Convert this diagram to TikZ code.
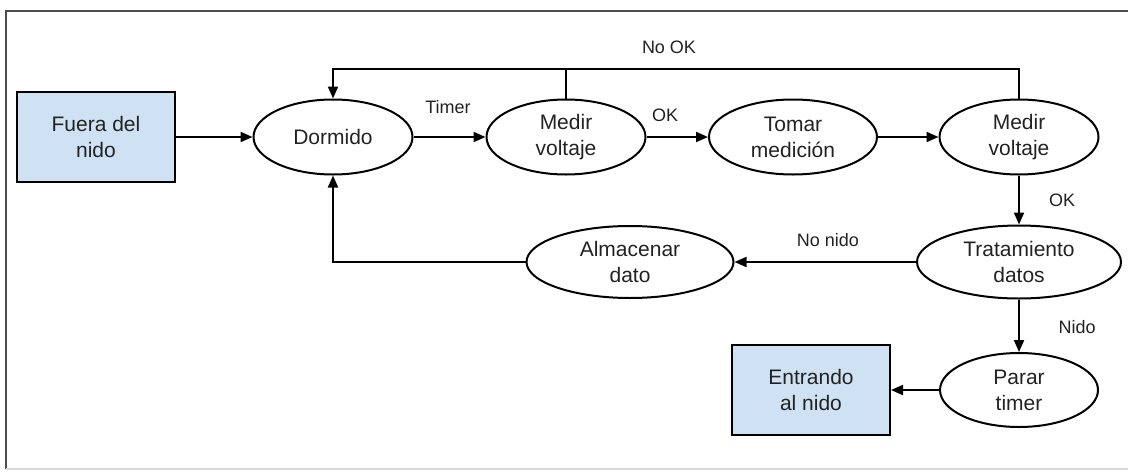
\documentclass[tikz,border=0pt]{standalone}
\usepackage{fontspec}
\setmainfont{Liberation Sans}
\usetikzlibrary{arrows.meta,shapes.geometric}

\definecolor{boxblue}{HTML}{CFE2F3}
\definecolor{ink}{HTML}{222222}

\begin{document}
\begin{tikzpicture}[x=0.5pt,y=-0.5pt,line width=1pt]
  \tikzset{
    estado/.style={ellipse,draw=black,inner sep=0pt,align=center,
      font=\fontsize{10.5}{13}\selectfont,text=ink,
      minimum width=79.5pt,minimum height=37.5pt},
    caja/.style={rectangle,draw=black,fill=boxblue,inner sep=0pt,align=center,
      font=\fontsize{10.5}{13}\selectfont,text=ink,
      minimum width=79pt,minimum height=45pt},
    etiqueta/.style={font=\fontsize{9}{11}\selectfont,text=ink,inner sep=0pt},
    flecha/.style={-{Triangle[length=6pt,width=5pt]}}
  }
  \useasboundingbox (0,0) rectangle (1128,471);

  \draw[black!70] (6,469) -- (6,11) -- (1128,11);
  \draw[black!15] (6,469) -- (1128,469);

  \node[caja] (fuera) at (96,137) {Fuera del\\nido};
  \node[estado] (dormido) at (333,137) {Dormido};
  \node[estado] (medir1) at (566,137) {Medir\\voltaje};
  \node[estado,minimum width=84pt] (tomar) at (793,137) {Tomar\\medición};
  \node[estado] (medir2) at (1019,137) {Medir\\voltaje};
  \node[estado,minimum width=102pt,minimum height=36.5pt] (trat) at (1019,262) {Tratamiento\\datos};
  \node[estado,minimum width=103.5pt,minimum height=36pt] (almac) at (630,262) {Almacenar\\dato};
  \node[estado,minimum width=79pt,minimum height=37pt] (parar) at (1019,390) {Parar\\timer};
  \node[caja] (entrando) at (811,390) {Entrando\\al nido};

  \node[etiqueta] (timer) at (448,107) {Timer};
  \node[etiqueta] (ok1) at (665,115) {OK};
  \node[etiqueta] (nook) at (669,47) {No OK};
  \node[etiqueta] (ok2) at (1062,200) {OK};
  \node[etiqueta] (nonido) at (828,240) {No nido};
  \node[etiqueta] (nido) at (1077,327) {Nido};

  \draw[flecha] (fuera.east) -- (dormido.west);
  \draw[flecha] (dormido.east) -- (medir1.west);
  \draw[flecha] (medir1.east) -- (tomar.west);
  \draw[flecha] (tomar.east) -- (medir2.west);
  \draw[flecha] (medir2.north) -- ++(0,-30) -| (dormido.north);
  \draw (medir1.north) -- ++(0,-31);
  \draw[flecha] (medir2.south) -- (trat.north);
  \draw[flecha] (trat.west) -- (almac.east);
  \draw[flecha] (almac.west) -| (dormido.south);
  \draw[flecha] (trat.south) -- (parar.north);
  \draw[flecha] (parar.west) -- (entrando.east);
\end{tikzpicture}
\end{document}
